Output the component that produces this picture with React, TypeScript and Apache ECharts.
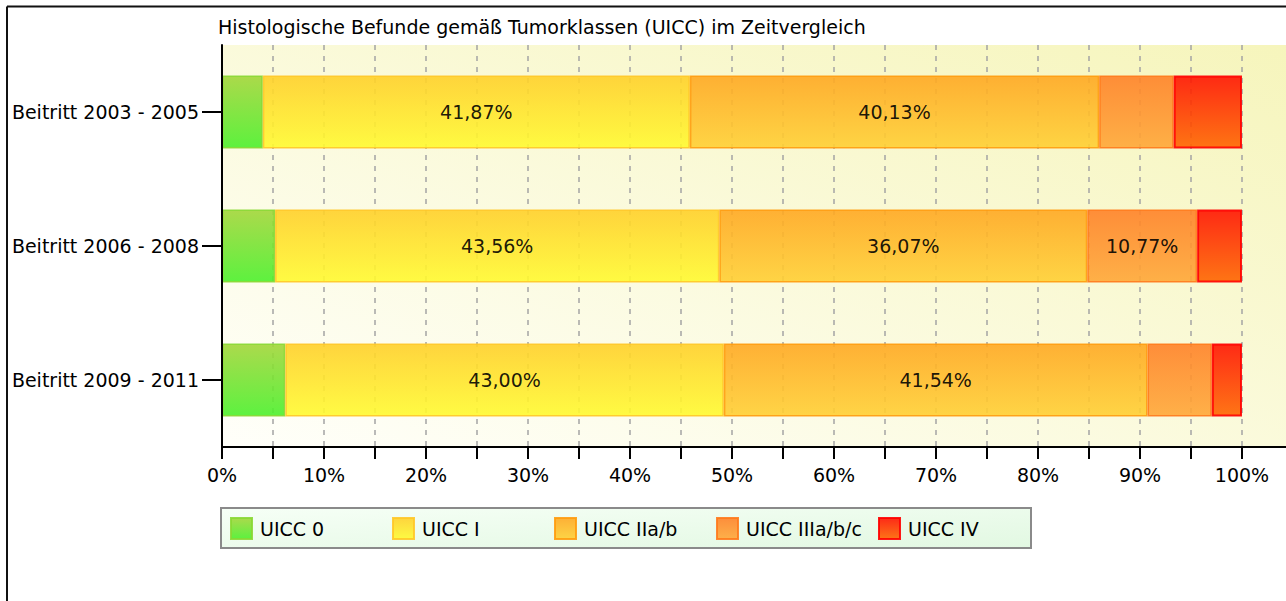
import React, { useEffect, useRef } from "react";
import * as echarts from "echarts";

const titleText = "Histologische Befunde gemäß Tumorklassen (UICC) im Zeitvergleich";
const categories = ["Beitritt 2003 - 2005", "Beitritt 2006 - 2008", "Beitritt 2009 - 2011"];
const seriesNames = ["UICC 0", "UICC I", "UICC IIa/b", "UICC IIIa/b/c", "UICC IV"];
const uicc0 = [4.0, 5.2, 6.2];
const uicc1 = [41.87, 43.56, 43.0];
const uicc2 = [40.13, 36.07, 41.54];
const uicc3 = [7.3, 10.77, 6.3];
const uicc4 = [6.7, 4.4, 2.96];
const seriesValues = [uicc0, uicc1, uicc2, uicc3, uicc4];

const gradTop = ["#a2d63a", "#ffd02a", "#ffa822", "#ff8228", "#ff1400"];
const gradBottom = ["#4cf02c", "#fffa30", "#ffd034", "#ffa838", "#ff6600"];
const borders = ["#8ad834", "#ffc828", "#ff9c10", "#ff7a1c", "#ff0000"];

const FONT = "DejaVu Sans";

export default function App() {
  const ref = useRef<HTMLDivElement>(null);
  useEffect(() => {
    if (!ref.current) return;
    const chart = echarts.init(ref.current, undefined, { renderer: "svg" });
    const series = seriesNames.map((name, i) => ({
      name,
      type: "bar",
      stack: "total",
      barWidth: 73,
      data: seriesValues[i],
      itemStyle: {
        color: new echarts.graphic.LinearGradient(0, 0, 0, 1, [
          { offset: 0, color: gradTop[i] },
          { offset: 1, color: gradBottom[i] },
        ]),
        borderColor: borders[i],
        borderWidth: i === 4 ? 2 : 1.5,
        opacity: 0.9,
      },
      label: {
        show: true,
        position: "inside",
        color: "#000",
        fontFamily: FONT,
        fontSize: 19,
        formatter: (p: any) =>
          p.value >= 10 ? p.value.toFixed(2).replace(".", ",") + "%" : "",
      },
      emphasis: { disabled: true },
    }));
    const legends = seriesNames.map((name, i) => ({
      left: 230 + 162 * i,
      top: 517,
      padding: 0,
      itemWidth: 21,
      itemHeight: 21,
      icon: "rect",
      selectedMode: false,
      data: [name],
      textStyle: {
        fontFamily: FONT,
        fontSize: 19,
        color: "#000",
        padding: [0, 0, 0, 3],
      },
    }));
    chart.setOption({
      animation: false,
      textStyle: { fontFamily: FONT },
      title: {
        text: titleText,
        left: 218,
        top: 17,
        padding: 0,
        textStyle: { fontFamily: FONT, fontSize: 19, fontWeight: "normal", color: "#000" },
      },
      graphic: [
        {
          type: "rect",
          z: -10,
          shape: { x: 222, y: 45, width: 1064, height: 402 },
          style: {
            fill: {
              type: "linear",
              x: 0,
              y: 1,
              x2: 1,
              y2: 0,
              colorStops: [
                { offset: 0, color: "#fffffa" },
                { offset: 1, color: "#f6f5bc" },
              ],
            },
          },
        },
        {
          type: "line",
          z: 10,
          shape: { x1: 1242, y1: 447, x2: 1286, y2: 447 },
          style: { stroke: "#000", lineWidth: 2 },
        },
        {
          type: "line",
          shape: { x1: 7, y1: 6.5, x2: 1286, y2: 6.5 },
          style: { stroke: "#111", lineWidth: 2 },
        },
        {
          type: "line",
          shape: { x1: 7, y1: 6.5, x2: 7, y2: 601 },
          style: { stroke: "#111", lineWidth: 2 },
        },
        {
          type: "rect",
          z: -5,
          shape: { x: 221, y: 508, width: 810, height: 40 },
          style: {
            fill: {
              type: "linear",
              x: 0,
              y: 0,
              x2: 1,
              y2: 1,
              colorStops: [
                { offset: 0, color: "#f6fff6" },
                { offset: 1, color: "#e2f8e2" },
              ],
            },
            stroke: "#8a8a8a",
            lineWidth: 2,
          },
        },
      ],
      legend: legends,
      grid: { left: 222, right: 44, top: 45, bottom: 154, containLabel: false },
      xAxis: {
        type: "value",
        min: 0,
        max: 100,
        interval: 5,
        z: 1,
        axisLine: { show: true, lineStyle: { color: "#000", width: 2 } },
        axisTick: { show: true, length: 12, lineStyle: { color: "#000", width: 2 } },
        axisLabel: {
          margin: 18,
          color: "#000",
          fontFamily: FONT,
          fontSize: 19,
          formatter: (v: number) => (v % 10 === 0 ? v + "%" : ""),
        },
        splitLine: {
          show: true,
          showMinLine: false,
          lineStyle: { color: "#a4a4a4", type: [5, 6], width: 1.5 },
        },
      },
      yAxis: {
        type: "category",
        inverse: true,
        z: 3,
        data: categories,
        axisLine: { show: true, lineStyle: { color: "#000", width: 2 } },
        axisTick: { show: true, alignWithLabel: true, length: 20, lineStyle: { color: "#000", width: 2 } },
        axisLabel: { margin: 23, color: "#000", fontFamily: FONT, fontSize: 19 },
        splitLine: { show: false },
      },
      series,
    });
    return () => chart.dispose();
  }, []);
  return (
    <div
      ref={ref}
      style={{ position: "fixed", left: 0, top: 0, width: 1286, height: 601, background: "#fff" }}
    />
  );
}
